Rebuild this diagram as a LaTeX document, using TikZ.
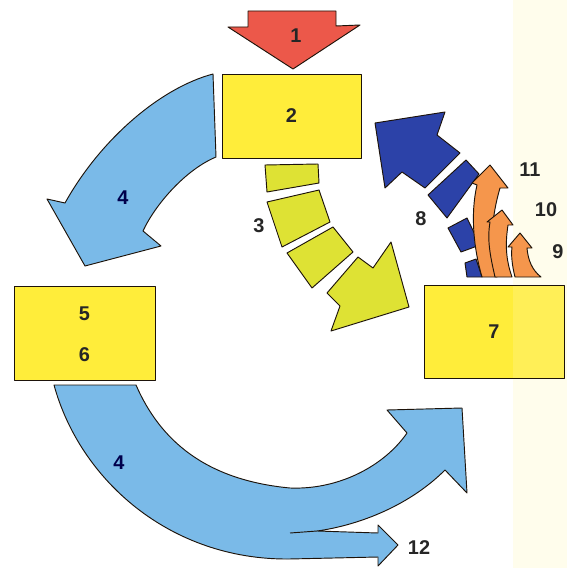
\documentclass[tikz,border=0pt]{standalone}
\usepackage{fontspec}
\setmainfont{Liberation Sans}
\begin{document}
\begin{tikzpicture}[x=0.03cm, y=-0.03cm, line join=round]
    % Styles
    \tikzstyle{edge} = [draw=black!85!brown, line width=0.8pt]
    \tikzstyle{box} = [rectangle, edge, fill=boxyellow, minimum width=4.17cm, minimum height=2.52cm, inner sep=0pt, align=center]
    \tikzstyle{num} = [font=\fontsize{17}{20}\selectfont\bfseries, text=black!85, inner sep=0pt]
    \tikzstyle{skyarrow} = [edge, fill=skyblue]
    \tikzstyle{inputarrow} = [edge, fill=inputred]
    \tikzstyle{flowpiece} = [edge, fill=limeyellow]
    \tikzstyle{backpiece} = [edge, fill=deepblue]
    \tikzstyle{risearrow} = [edge, fill=riseorange]
    \definecolor{boxyellow}{RGB}{255,237,58}
    \definecolor{skyblue}{RGB}{122,186,232}
    \definecolor{inputred}{RGB}{236,88,74}
    \definecolor{limeyellow}{RGB}{222,226,52}
    \definecolor{deepblue}{RGB}{44,66,168}
    \definecolor{riseorange}{RGB}{245,150,76}
    \definecolor{paper}{RGB}{255,253,236}

    \useasboundingbox (0,0) rectangle (567,568);
    \clip (0,0) rectangle (567,568);
    \fill[paper] (513,0) rectangle (567,568);

    % Nodes
    \node [box] (two) at (291.5,116) {};
    \node [box, minimum width=4.23cm, minimum height=2.82cm] (fivesix) at (84.5,333) {};
    \node [box, minimum width=4.2cm, minimum height=2.79cm,
        path picture={\fill[white, fill opacity=0.15] ([xshift=0.57cm]path picture bounding box.north) rectangle (path picture bounding box.south east);}] (seven) at (494,331.5) {};

    % Arrows
    \draw [inputarrow] (248,11) -- (336,11) -- (336,26) -- (360,25) -- (293,69) -- (228,27) -- (248,27) -- cycle;
    \draw [skyarrow] (213,74) .. controls (160,88) and (100,140) .. (65,203) -- (47,199) -- (85,266) -- (161,246) -- (143,231)
        .. controls (155,205) and (185,170) .. (216,157) -- cycle;
    \draw [skyarrow] (54,385) -- (136,385) .. controls (160,440) and (205,480) .. (290,488)
        .. controls (340,490) and (385,465) .. (407,433) -- (387,410) -- (462,408) -- (467,493) -- (445,470)
        .. controls (410,505) and (360,525) .. (317,531) -- (378,533) -- (378,525) -- (398,545) -- (378,566) -- (378,557)
        -- (289,559) .. controls (170,560) and (80,480) .. (54,385) -- cycle;
    \draw [edge] (290,533) -- (317,531);
    % segmented arrows
    \draw [flowpiece] (265,165) -- (318,164) -- (319,183) -- (267,192) -- cycle;
    \draw [flowpiece] (267,202) -- (319,190) -- (330,222) -- (282,247) -- cycle;
    \draw [flowpiece] (287,253) -- (333,227) -- (353,252) -- (312,288) -- cycle;
    \draw [flowpiece] (327,293) -- (358,257) -- (373,268) -- (391,242) -- (409,307) -- (331,331) -- (340,306) -- cycle;
    \draw [backpiece] (375,123) -- (445,112) -- (437,135) -- (460,153) -- (425,188) -- (402,172) -- (385,188) -- cycle;
    \draw [backpiece] (428,195) -- (466,160) -- (479,174) -- (447,218) -- cycle;
    \draw [backpiece] (448,228) -- (467,218) -- (480,245) -- (461,252) -- cycle;
    \draw [backpiece] (465,263) -- (476,259) -- (482,277) -- (467,277) -- cycle;
    \draw [risearrow] (482,277) .. controls (474,250) and (470,215) .. (477,185) -- (472,183) -- (490,165) -- (508,188) -- (500,188)
        .. controls (492,215) and (488,250) .. (497,277) -- cycle;
    \draw [risearrow] (495,277) .. controls (490,255) and (487,240) .. (490,222) -- (487,222) -- (502,210) -- (513,225) -- (508,225)
        .. controls (505,245) and (506,260) .. (512,277) -- cycle;
    \draw [risearrow] (515,277) .. controls (512,265) and (511,255) .. (512,247) -- (508,247) -- (520,233) -- (532,248) -- (527,248)
        .. controls (528,260) and (532,270) .. (541,277) -- cycle;

    % Labels
    \node [num] (l1) at (296,36) {1};
    \node [num] (l2) at (two) {2};
    \node [num] (l3) at (259,226) {3};
    \node [num, text=black!70!blue] (l4a) at (123,198) {4};
    \node [num, text=black!70!blue] (l4b) at (119,463) {4};
    \node [num] (l5) at (84.5,314) {5};
    \node [num] (l6) at (84.5,355) {6};
    \node [num] (l7) at (seven) {7};
    \node [num] (l8) at (421,219) {8};
    \node [num] (l9) at (558,252) {9};
    \node [num] (l10) at (546,210) {10};
    \node [num] (l11) at (530,170) {11};
    \node [num] (l12) at (419,548) {12};
\end{tikzpicture}
\end{document}
